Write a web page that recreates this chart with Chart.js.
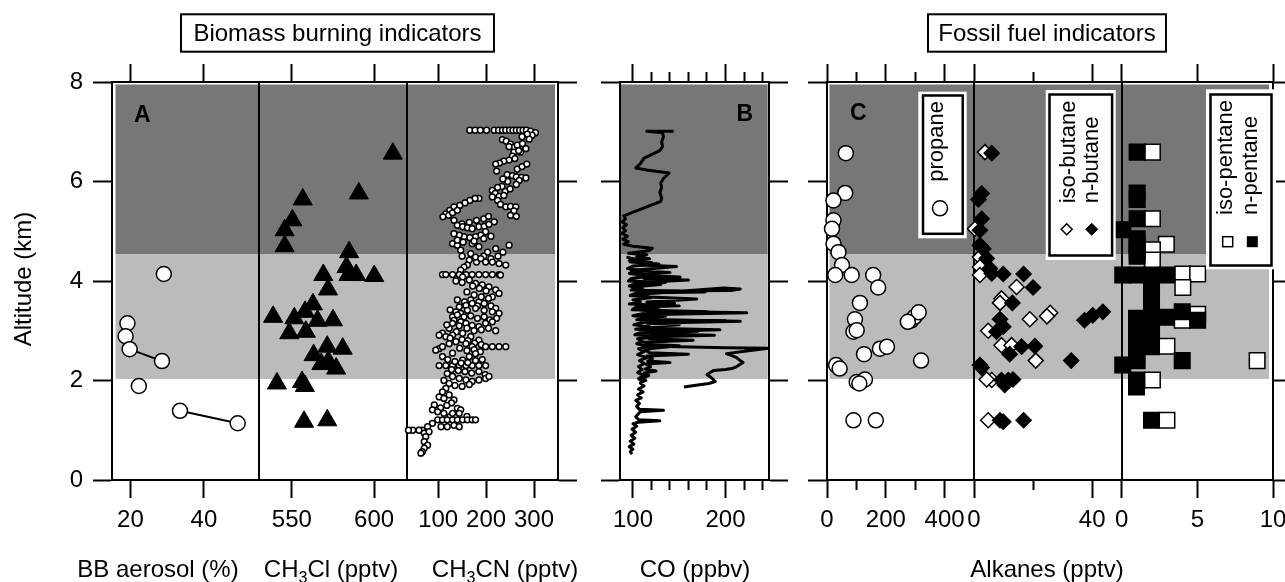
<!DOCTYPE html>
<html>
<head>
<meta charset="utf-8">
<title>Biomass burning and fossil fuel indicators</title>
<script src="https://cdn.jsdelivr.net/npm/chart.js@4.4.1/dist/chart.umd.min.js"></script>
<style>
  html, body { margin: 0; padding: 0; background: #fff; overflow: hidden; }
  #fig { position: relative; width: 1285px; height: 582px; overflow: hidden; }
  #fig canvas, #fig svg { position: absolute; left: 0; top: 0; }
  #fig svg text { font-family: 'Liberation Sans', Arial, sans-serif; fill: #000; }
</style>
</head>
<body>
<div id="fig">
  <svg id="overlay" width="1285" height="582">
    <!-- group titles -->
    <rect x="181" y="14.3" width="313" height="37.4" fill="#fff" stroke="#000" stroke-width="2"/>
    <text x="337.5" y="40.5" font-size="24" text-anchor="middle">Biomass burning indicators</text>
    <rect x="928" y="14.3" width="238" height="37.4" fill="#fff" stroke="#000" stroke-width="2"/>
    <text x="1047" y="40.5" font-size="24" text-anchor="middle">Fossil fuel indicators</text>

    <!-- axis titles -->
    <text transform="translate(31,279) rotate(-90)" font-size="24" text-anchor="middle">Altitude (km)</text>
    <text x="158" y="577" font-size="24" text-anchor="middle">BB aerosol (%)</text>
    <text x="331" y="577" font-size="24" text-anchor="middle">CH<tspan font-size="16" dy="6">3</tspan><tspan dy="-6">Cl (pptv)</tspan></text>
    <text x="505" y="577" font-size="24" text-anchor="middle">CH<tspan font-size="16" dy="6">3</tspan><tspan dy="-6">CN (pptv)</tspan></text>
    <text x="695" y="577" font-size="24" text-anchor="middle">CO (ppbv)</text>
    <text x="1047" y="577" font-size="24" text-anchor="middle">Alkanes (pptv)</text>

    <!-- panel letters -->
    <text x="134" y="122" font-size="23" font-weight="bold">A</text>
    <text x="753" y="121" font-size="23" font-weight="bold" text-anchor="end">B</text>
    <text x="850" y="120" font-size="23" font-weight="bold">C</text>

    <!-- legends -->
    <rect x="918.3" y="91.7" width="48.4" height="146.6" fill="#fff"/>
    <rect x="923" y="95.5" width="39.7" height="138.3" fill="#fff" stroke="#000" stroke-width="2.5"/>
    <text transform="translate(943.4,181.7) rotate(-90)" font-size="22">propane</text>
    <circle cx="940" cy="208.3" r="7.5" fill="#fff" stroke="#000" stroke-width="1.5"/>

    <rect x="1045.7" y="90" width="70" height="170" fill="#fff"/>
    <rect x="1049.5" y="94.5" width="62.6" height="161" fill="#fff" stroke="#000" stroke-width="2.5"/>
    <text transform="translate(1075,203.3) rotate(-90)" font-size="22">iso-butane</text>
    <text transform="translate(1098.3,203.3) rotate(-90)" font-size="22">n-butane</text>
    <path d="M1061.2 229.3 L1066.7 223.8 L1072.2 229.3 L1066.7 234.8 Z" fill="#fff" stroke="#000" stroke-width="1.5"/>
    <path d="M1085.7 229.3 L1091.7 223.3 L1097.7 229.3 L1091.7 235.3 Z" fill="#000" stroke="#000" stroke-width="1"/>

    <rect x="1206" y="89.3" width="70" height="180" fill="#fff"/>
    <rect x="1210.5" y="94.5" width="61" height="171" fill="#fff" stroke="#000" stroke-width="2.5"/>
    <text transform="translate(1232,215) rotate(-90)" font-size="22">iso-pentane</text>
    <text transform="translate(1257,215) rotate(-90)" font-size="22">n-pentane</text>
    <rect x="1222.7" y="236.7" width="10" height="10" fill="#fff" stroke="#000" stroke-width="1.5"/>
    <rect x="1246.8" y="236.2" width="11" height="11" fill="#000"/>
  </svg>
</div>
<script>
const FONT = "'Liberation Sans', Arial, sans-serif";
const W = 1310, H = 582;
const TOP = 82, BOTTOM = 480;
const XLABEL_H = 60, YLABEL_W = 50;   // room kept for tick labels

// altitude axis and shaded layers (km)
const altTicks = [0, 2, 4, 6, 8];
const bandLight = [2.03, 4.54];
const bandDark = [4.54, 7.95];

// tick values per sub-axis
const bbTicks = [20, 40];
const clTicks = [550, 600];
const cnTicks = [100, 200, 300];
const coTicks = [100, 200];
const coMinor = [120, 140, 160, 180, 220, 240];
const propTicks = [0, 200, 400];
const propMinor = [100, 300];
const butTicks = [0, 40];
const butMinor = [20];
const pentTicks = [0, 5, 10];

// [value, altitude km]
const bbAerosol = [[29.1,4.14],[19.2,3.15],[18.7,2.89],[19.8,2.63],[28.6,2.39],[22.3,1.89],[33.5,1.39],[49.2,1.14]];
const bbLinks = [[3,4],[6,7]];   // samples joined by a line

const ch3cl = [[611.4,6.56],[590.7,5.76],[556.6,5.64],[550.3,5.22],[545.6,5.02],[545.6,4.70],[584.8,4.58],
  [569.1,4.12],[583.2,4.28],[584.4,4.12],[589.1,4.12],[600.1,4.10],[572,3.83],[562.8,3.53],[558,3.38],
  [551.5,3.25],[538.6,3.28],[565.6,3.20],[575,3.21],[548.4,2.95],[558.5,2.98],[571.5,2.68],[580.9,2.64],
  [563.2,2.51],[567.9,2.33],[572.2,2.38],[576.9,2.24],[540.9,1.94],[556.2,1.97],[557.9,1.89],[557.4,1.17],[571.5,1.20]];

const ch3cn = [
  [166,7.03],[177,7.03],[188,7.03],[201,7.03],[217,7.03],[226,7.03],[234,7.03],[241,7.03],[249,7.03],[256,7.03],
  [263,7.03],[270,7.03],[277,7.03],[284,7.03],[293,7.01],[303,6.98],[296,6.93],[286,6.95],[290,6.85],[275,6.9],
  [234,6.84],[242,6.81],[251,6.75],[258,6.69],[265,6.73],[276,6.76],[283,6.66],[272,6.59],[258,6.59],[255,6.51],[260,6.46],
  [268,6.62],[248,6.7],[265,6.25],[275,6.3],[285,6.35],
  [248,6.43],[237,6.41],[228,6.37],[220,6.35],[222,6.21],[244,6.14],[255,6.12],[263,6.09],[274,6.08],[283,6.07],
  [269,6.02],[263,5.94],[245,6.0],[235,6.05],[240,5.8],[250,5.85],
  [233,5.90],[224,5.88],[213,5.82],[219,5.76],[227,5.70],[237,5.72],
  [185,5.66],[177,5.66],[166,5.62],[156,5.57],[145,5.52],[133,5.49],[124,5.42],[116,5.35],[110,5.29],[122,5.32],[130,5.37],[140,5.42],
  [213,5.69],[224,5.62],[230,5.54],[241,5.49],[251,5.50],[262,5.49],[258,5.41],[251,5.32],[263,5.30],
  [150,5.15],[165,5.18],[180,5.22],[195,5.25],[205,5.3],
  [133,5.22],[140,5.12],[151,5.09],[161,5.07],[171,5.05],[185,5.09],[196,5.10],[206,5.14],[217,5.19],[199,4.99],
  [189,4.92],[178,4.89],[166,4.87],[154,4.89],[144,4.92],[133,4.95],[130,4.75],[140,4.72],[147,4.62],[171,4.75],
  [185,4.69],[203,4.58],[220,4.65],[248,4.72],[140,4.82],[152,4.78],[175,4.8],[195,4.85],[210,4.9],
  [150,4.5],[165,4.42],[180,4.38],[195,4.5],[210,4.45],[225,4.5],[235,4.58],
  [168,4.55],[178,4.48],[189,4.45],[199,4.38],[213,4.38],[227,4.35],[241,4.32],[161,4.32],[154,4.28],[147,4.22],
  [109,4.13],[116,4.13],[130,4.13],[144,4.13],[158,4.13],[171,4.13],[185,4.13],[199,4.13],[213,4.13],[227,4.13],[230,4.12],
  [151,4.08],[165,4.02],[178,3.95],[192,3.92],[206,3.88],[220,3.82],[227,3.75],[213,3.68],[199,3.61],[185,3.58],
  [137,4.0],[150,3.97],[172,3.9],[186,3.85],[200,3.8],[160,3.78],[175,3.72],[190,3.68],[205,3.65],[140,3.62],
  [155,3.58],[168,3.62],[182,3.5],[196,3.55],[210,3.5],[220,3.45],
  [171,3.55],[158,3.51],[144,3.48],[137,3.38],[130,3.28],[147,3.35],[161,3.41],[178,3.45],[196,3.41],[213,3.38],[227,3.35],
  [125,3.42],[140,3.32],[154,3.28],[168,3.3],[182,3.25],[196,3.28],[208,3.22],[222,3.25],
  [133,3.21],[147,3.18],[158,3.15],[171,3.11],[185,3.08],[199,3.15],[213,3.18],[123,3.05],[109,2.95],[102,2.91],
  [118,3.12],[130,3.15],[144,3.1],[160,3.05],[175,3.0],[190,3.02],[205,3.05],[220,3.0],[138,2.98],
  [116,2.88],[130,2.91],[151,2.95],[168,2.88],[185,2.81],[125,2.85],[150,2.82],[162,2.8],[176,2.75],[190,2.72],
  [199,2.68],[213,2.68],[227,2.68],[241,2.68],[102,2.64],[95,2.61],[109,2.68],[123,2.74],[137,2.78],[158,2.74],[171,2.68],
  [145,2.65],[160,2.6],[175,2.62],[188,2.58],[130,2.55],
  [109,2.48],[102,2.30],[116,2.30],[130,2.30],[144,2.30],[158,2.30],[171,2.30],[185,2.30],[199,2.30],[151,2.41],[165,2.48],[178,2.54],
  [120,2.42],[135,2.38],[148,2.35],[162,2.36],[178,2.4],[192,2.42],
  [128,2.22],[142,2.2],[156,2.18],[170,2.15],[185,2.18],[198,2.12],
  [119,2.14],[130,2.08],[144,2.04],[158,2.01],[171,1.98],[185,2.01],[199,2.04],[206,2.08],
  [112,2.0],[135,1.9],[150,1.88],[165,1.92],
  [123,1.94],[116,1.84],[109,1.77],[102,1.67],[112,1.64],[123,1.71],[133,1.61],[140,1.44],[147,1.41],[92,1.51],
  [128,1.55],[118,1.5],[105,1.45],[125,1.28],[160,1.28],
  [88,1.41],[99,1.37],[112,1.34],[130,1.34],[144,1.34],
  [99,1.21],[109,1.21],[119,1.21],[130,1.21],[140,1.21],[151,1.21],[161,1.21],[171,1.21],[178,1.21],
  [106,1.07],[119,1.07],[133,1.10],[144,1.07],[88,1.14],[78,1.07],[67,1.00],[60,1.00],[47,1.00],[38,1.00],[71,0.94],[81,0.97],
  [74,0.87],[71,0.77],[78,0.70],[71,0.64],[67,0.57],[64,0.54]
];

// CO profile, ascending trace, a second pass through the layer and a separate leg
const coAscent = [
  [99,0.52],[97,0.57],[100,0.62],[96,0.67],[101,0.72],[97,0.78],[102,0.84],[98,0.9],[103,0.96],[99,1.02],
  [104,1.08],[100,1.13],[106,1.16],[129,1.19],[106,1.21],[103,1.27],[106,1.33],[108,1.37],[133,1.40],[107,1.42],
  [104,1.48],[107,1.54],[103,1.6],[109,1.65],[105,1.71],[111,1.77],[106,1.83],[112,1.89],[108,1.95],[114,2.0],
  [110,2.05],[117,2.1],[112,2.15],[125,2.19],[113,2.23],[119,2.28],[114,2.33],[140,2.36],[116,2.39],[121,2.44],
  [115,2.49],[160,2.53],[118,2.56],[113,2.61],[122,2.65],[150,2.70],[117,2.73],[112,2.77],[165,2.81],[118,2.84],
  [124,2.88],[188,2.91],[120,2.94],[114,2.98],[194,3.02],[119,3.05],[126,3.09],[150,3.12],[116,3.15],[216,3.19],
  [122,3.22],[110,3.26],[135,3.29],[112,3.32],[223,3.36],[120,3.39],[105,3.43],[128,3.47],[110,3.51],[145,3.55],
  [115,3.58],[169,3.64],[118,3.68],[102,3.72],[125,3.76],[198,3.86],[216,3.84],[206,3.81],[115,3.80],[99,3.88],
  [130,3.93],[108,3.97],[160,4.02],[112,4.05],[151,4.08],[104,4.12],[140,4.17],[98,4.21],[147,4.29],[108,4.32],
  [120,4.37],[96,4.41],[118,4.45],[104,4.49],[115,4.53],[95,4.56],[117,4.61],[121,4.66],[100,4.70],[90,4.74],
  [95,4.79],[89,4.84],[94,4.9],[88,4.96],[92,5.01],[89,5.07],[93,5.13],[88,5.19],[92,5.25],[90,5.31],
  [130,5.60],[131,5.67],[129,5.78],[131,5.88],[130,5.97],[133,6.06],[139,6.17],[115,6.23],[103,6.27],[108,6.36],
  [112,6.47],[129,6.62],[132,6.7],[131,6.8],[133,6.9],[132,6.98],[115,7.01],[144,7.01]
];
const coPass = [
  [93,4.48],[105,4.43],[97,4.38],[128,4.34],[100,4.3],[94,4.25],[112,4.2],[96,4.15],[120,4.1],[98,4.05],
  [95,4.0],[135,3.97],[102,3.94],[96,3.9],[110,3.86],[98,3.82],[178,3.78],[104,3.76],[97,3.71],[120,3.67],
  [100,3.62],[108,3.58],[96,3.54],[150,3.5],[103,3.47],[99,3.42],[180,3.38],[110,3.34],[100,3.3],[125,3.26],
  [104,3.22],[200,3.2],[112,3.17],[101,3.12],[118,3.08],[103,3.03],[170,2.99],[108,2.96],[102,2.92],[130,2.88],
  [105,2.84],[110,2.79],[104,2.74],[118,2.69],[106,2.64],[112,2.58],[105,2.52],[115,2.46],[107,2.4],[112,2.34],
  [106,2.28],[110,2.22],[105,2.16],[112,2.1],[106,2.04],[110,1.98]
];
const coLeg = [
  [155,1.87],[170,1.91],[182,1.94],[189,1.98],[185,2.05],[180,2.12],[187,2.2],[200,2.22],[207,2.24],[212,2.28],
  [219,2.36],[216,2.40],[212,2.46],[207,2.5],[201,2.54],[225,2.6],[246,2.65],[200,2.66],[150,2.68],[112,2.70]
];

const propane = [[64,6.57],[62,5.77],[22,5.62],[22,5.22],[17,5.05],[22,4.75],[39,4.58],[51,4.32],[28,4.12],[84,4.12],
  [157,4.12],[174,3.87],[112,3.56],[95,3.23],[90,2.98],[101,3.01],[287,3.21],[298,3.28],[312,3.37],[275,3.18],
  [180,2.64],[204,2.68],[126,2.53],[320,2.40],[31,2.31],[43,2.24],[101,1.97],[129,2.02],[110,1.94],[90,1.20],[166,1.20]];

const isoButane = [[3.7,6.59],[0.3,5.05],[2.0,4.48],[2.0,4.28],[2.0,4.12],[14.4,3.88],[9.3,3.65],[8.8,3.56],[18.9,3.23],
  [25.8,3.36],[24.7,3.29],[4.8,3.00],[9.3,2.71],[12.7,2.71],[20.9,2.40],[6.0,2.01],[4.3,2.02],[4.8,1.20]];
const nButane = [[6.0,6.57],[2.6,5.76],[1.5,5.64],[2.6,5.25],[2.0,5.02],[2.0,4.72],[3.1,4.65],[4.3,4.45],[5.4,4.25],
  [6.0,4.15],[9.9,4.14],[16.8,4.14],[20,3.87],[13,3.56],[8.8,3.23],[37.4,3.21],[40.2,3.31],[43.6,3.38],[7.6,2.98],
  [9.9,3.08],[12.1,2.53],[16.1,2.68],[20.6,2.69],[32.9,2.40],[2.0,2.31],[2.6,2.26],[9.3,2.01],[11.6,2.01],[13.2,2.02],
  [10.4,1.91],[8.8,1.20],[9.9,1.17],[16.8,1.20]];

const isoPentane = [[2.03,6.59],[2.03,5.25],[2.95,4.74],[2.03,4.63],[2.03,4.42],[4.04,4.14],[5.02,4.14],[4.04,3.87],
  [5.02,3.33],[4.0,3.21],[2.99,2.69],[8.95,2.40],[2.03,2.01],[2.99,1.20]];
const nPentane = [[1.02,6.59],[1.02,5.77],[1.02,5.64],[1.02,5.25],[0.07,5.03],[1.02,4.85],[1.02,4.72],[1.02,4.6],
  [1.02,4.50],[0.07,4.12],[1.02,4.12],[1.97,4.12],[2.95,4.12],[1.97,3.87],[1.97,3.58],[0.98,3.25],[1.97,3.25],
  [2.95,3.27],[4.0,3.38],[5.02,3.21],[0.98,3.1],[1.97,3.05],[0.98,2.95],[1.97,2.95],[0.98,2.68],[1.97,2.68],
  [0.98,2.5],[0.07,2.31],[1.02,2.40],[4.0,2.40],[0.98,2.01],[0.98,1.87],[1.97,1.20]];

const toPts = arr => arr.map(([x, y]) => ({ x, y }));
const tickList = vals => vals.map(v => ({ value: v }));

function markers(arr, style, radius, fill, width) {
  return {
    data: toPts(arr), showLine: false, clip: false,
    pointStyle: style, pointRadius: radius, pointHoverRadius: radius,
    pointBackgroundColor: fill, pointBorderColor: '#000', pointBorderWidth: width
  };
}

function trace(arr, width) {
  return {
    data: toPts(arr), showLine: true, clip: false, borderColor: '#000', borderWidth: width,
    pointRadius: 0, pointHoverRadius: 0, tension: 0, fill: false, borderJoinStyle: 'round'
  };
}

// horizontal axis; size is the room the axis box keeps (labels are clipped to it)
function xScale(p, pos, vals, len, labels, border, size, weight) {
  return {
    type: 'linear', axis: 'x', position: pos, min: p.range[0], max: p.range[1], weight,
    afterBuildTicks: s => { s.ticks = tickList(vals); },
    afterFit: s => { s.height = size; },
    border: { display: border, color: '#000', width: 2 },
    grid: { drawOnChartArea: false, tickLength: len, tickWidth: 2, tickColor: '#000' },
    ticks: { display: labels, autoSkip: false, maxRotation: 0, minRotation: 0, padding: 8, color: '#000',
             font: { family: FONT, size: 24 }, callback: v => String(v) }
  };
}

function yScale(pos, mode) {
  return {
    type: 'linear', axis: 'y', position: pos, min: 0, max: 8,
    afterBuildTicks: s => { s.ticks = mode === 'line' ? [] : tickList(altTicks); },
    afterFit: s => { s.width = mode === 'labels' ? YLABEL_W : 0; },
    border: { display: true, color: '#000', width: 2 },
    grid: { drawOnChartArea: false, drawTicks: mode !== 'line', tickLength: 19, tickWidth: 2, tickColor: '#000' },
    ticks: { display: mode === 'labels', padding: 10, color: '#000', font: { family: FONT, size: 24 } }
  };
}

// grey layers behind the data
const bandPlugin = {
  id: 'bands',
  beforeDraw(chart, args, opts) {
    const { ctx, chartArea: a } = chart;
    const y = chart.scales.y;
    const [il, ir] = opts.inset || [0, 0];
    const fillBand = (band, color) => {
      const top = y.getPixelForValue(band[1]), bot = y.getPixelForValue(band[0]);
      ctx.fillStyle = color;
      ctx.fillRect(a.left + il, top, a.right - a.left - il - ir, bot - top);
    };
    ctx.save();
    fillBand(bandLight, '#bbbbbb');
    fillBand(bandDark, '#777777');
    ctx.restore();
  }
};

const bbLines = bbLinks.map(([i, j]) => trace([bbAerosol[i], bbAerosol[j]], 2));

const subplots = [
  { left: 112, right: 259, range: [15, 55], ticks: bbTicks, minor: [], yLeft: 'labels', yRight: 'line', inset: [3.5, 0],
    datasets: [markers(bbAerosol, 'circle', 7.5, '#fff', 1.5), ...bbLines] },
  { left: 259, right: 407, range: [530, 620], ticks: clTicks, minor: [], yLeft: 'line', yRight: 'line', inset: [0, 0],
    datasets: [markers(ch3cl, 'triangle', 11, '#000', 1)] },
  { left: 407, right: 558, range: [35, 350], ticks: cnTicks, minor: [], yLeft: 'line', yRight: 'ticks', inset: [0, 3],
    datasets: [markers(ch3cn, 'circle', 2.9, '#fff', 1.5)] },
  { left: 620, right: 769, range: [86, 247], ticks: coTicks, minor: coMinor, yLeft: 'ticks', yRight: 'ticks', inset: [0.7, 1.3],
    datasets: [trace(coAscent, 3), trace(coPass, 3), trace(coLeg, 3)] },
  { left: 827, right: 974, range: [0, 500], ticks: propTicks, minor: propMinor, yLeft: 'ticks', yRight: 'line', inset: [2.5, 0],
    datasets: [markers(propane, 'circle', 7.5, '#fff', 1.5)] },
  { left: 974, right: 1121.7, range: [0, 50], ticks: butTicks, minor: butMinor, yLeft: 'line', yRight: 'line', inset: [0, 0],
    datasets: [markers(nButane, 'rectRot', 7.5, '#000', 1.5), markers(isoButane, 'rectRot', 7.5, '#fff', 1.5)] },
  { left: 1121.7, right: 1273, range: [0, 10], ticks: pentTicks, minor: [], yLeft: 'line', yRight: 'ticks', inset: [0, 4],
    datasets: [markers(nPentane, 'rect', 11, '#000', 1.5), markers(isoPentane, 'rect', 11, '#fff', 1.5)] }
];

const fig = document.getElementById('fig');
const overlay = document.getElementById('overlay');

subplots.forEach((p, i) => {
  const canvas = document.createElement('canvas');
  canvas.width = W;
  canvas.height = H;
  canvas.id = 'panel' + i;
  fig.insertBefore(canvas, overlay);

  const scales = {
    x: xScale(p, 'bottom', p.ticks, 18, true, true, XLABEL_H, 0),
    xt: xScale(p, 'top', p.ticks, 18, false, true, 0, 0),
    y: yScale('left', p.yLeft),
    yr: yScale('right', p.yRight)
  };
  if (p.minor.length) {
    scales.xm = xScale(p, 'bottom', p.minor, 10, false, false, 0, -1);
    scales.xmt = xScale(p, 'top', p.minor, 10, false, false, 0, 1);
  }
  const leftRoom = p.yLeft === 'labels' ? YLABEL_W : 0;

  new Chart(canvas, {
    type: 'scatter',
    data: { datasets: p.datasets },
    options: {
      responsive: false,
      animation: false,
      events: [],
      layout: { padding: { left: p.left - leftRoom, right: W - p.right, top: TOP, bottom: H - BOTTOM - XLABEL_H } },
      plugins: { legend: { display: false }, tooltip: { enabled: false }, bands: { inset: p.inset } },
      scales
    },
    plugins: [bandPlugin]
  });
});
</script>
</body>
</html>
